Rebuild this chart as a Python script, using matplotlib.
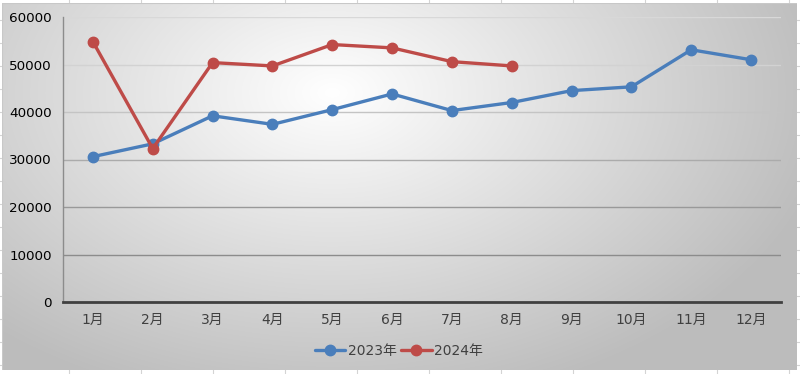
import numpy as np
import matplotlib.pyplot as plt
from matplotlib.patches import Rectangle

plt.rcParams['font.family'] = ['DejaVu Sans', 'Noto Sans CJK SC']

months = ['1月', '2月', '3月', '4月', '5月', '6月', '7月', '8月', '9月', '10月', '11月', '12月']
sales_2023 = [30600, 33300, 39200, 37400, 40500, 43800, 40300, 42000, 44500, 45300, 53100, 51000]
sales_2024 = [54800, 32300, 50400, 49700, 54200, 53500, 50600, 49700]
yticks = [0, 10000, 20000, 30000, 40000, 50000, 60000]
grid_colors = ['#8c8c8c', '#999999', '#ababab', '#c4c4c4', '#d2d2d2', '#d8d8d8']

W, H = 800, 374
fig = plt.figure(figsize=(W / 100, H / 100), dpi=100)
fig.patch.set_facecolor('white')

# spreadsheet cell lines behind the chart
for x in range(69, W, 72):
    fig.add_artist(plt.Line2D([x / W, x / W], [0, 1], color='#d4d4d4', lw=0.8, zorder=-5))
for y in range(20, H, 23):
    fig.add_artist(plt.Line2D([0, 1], [1 - y / H, 1 - y / H], color='#d4d4d4', lw=0.8, zorder=-5))

# chart area with radial gradient
bg = fig.add_axes([2 / W, 1 - 370 / H, 795 / W, 367 / H])
bg.set_zorder(0)
yy, xx = np.mgrid[0:367, 0:795]
d = np.sqrt(((xx - 330) / 520.0) ** 2 + ((yy - 90) / 330.0) ** 2)
shade = np.clip(1.0 - 0.27 * d, 0.74, 1.0)
bg.imshow(np.dstack([shade] * 3), aspect='auto', interpolation='bilinear')
bg.axis('off')
bg.add_patch(Rectangle((0, 0), 1, 1, transform=bg.transAxes, fill=False,
                       edgecolor='#c8c8c8', lw=0.8))

ax = fig.add_axes([63 / W, 1 - 302 / H, 718 / W, 285 / H])
ax.set_zorder(1)
ax.patch.set_alpha(0)

for v, c in zip(yticks[1:], grid_colors):
    ax.axhline(v, color=c, lw=1, zorder=1)

x = np.arange(len(months))
ax.plot(x, sales_2023, color='#4a7ebb', lw=2.4, marker='o', ms=7.5,
        label='2023年', zorder=3, solid_capstyle='round')
ax.plot(x[:len(sales_2024)], sales_2024, color='#be4b48', lw=2.4, marker='o', ms=7.5,
        label='2024年', zorder=4, solid_capstyle='round')

ax.set_xlim(-0.5, len(months) - 0.5)
ax.set_ylim(0, 60000)
ax.set_yticks(yticks)
ax.set_yticklabels([str(v) for v in yticks], fontsize=9.7, color='black')
ax.set_xticks(x)
ax.set_xticklabels(months, fontsize=10, color='#404040')
ax.tick_params(axis='both', length=0)
ax.tick_params(axis='x', pad=8)
ax.tick_params(axis='y', pad=8)

for s in ['top', 'right']:
    ax.spines[s].set_visible(False)
ax.spines['left'].set_color('#8c8c8c')
ax.spines['left'].set_linewidth(1)
ax.spines['bottom'].set_color('#404040')
ax.spines['bottom'].set_linewidth(2)

leg = fig.legend(loc='center', bbox_to_anchor=(399 / W, 1 - 351 / H), ncol=2,
                 frameon=False, fontsize=10, handlelength=2.2, columnspacing=0.3,
                 handletextpad=0.2, borderpad=0)
for t in leg.get_texts():
    t.set_color('#404040')

fig.savefig('out.png', dpi=100)
